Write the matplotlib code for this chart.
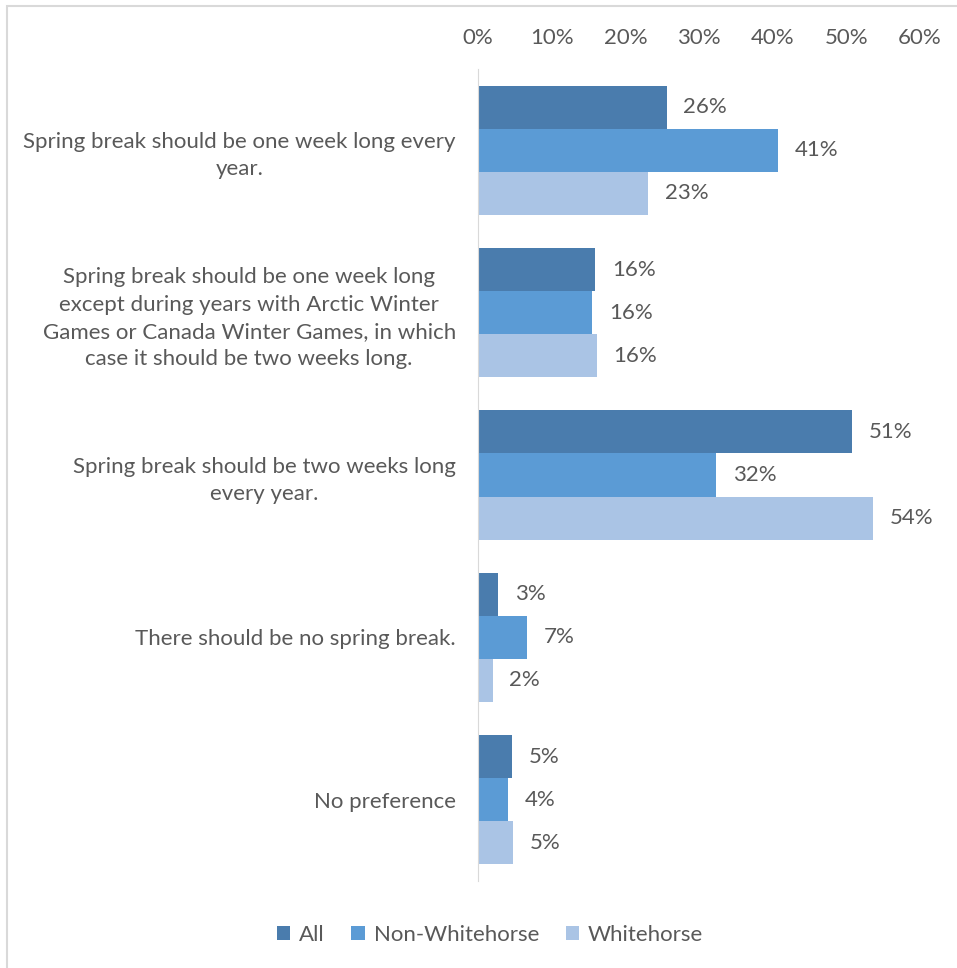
import matplotlib.pyplot as plt
import numpy as np
from matplotlib.patches import Rectangle

plt.rcParams['font.family'] = ['Lato', 'DejaVu Sans']

# Survey answers (top to bottom) and the share of each group
answers = ['Spring break should be one week long every\nyear.',
           'Spring break should be one week long\nexcept during years with Arctic Winter\nGames or Canada Winter Games, in which\ncase it should be two weeks long.',
           'Spring break should be two weeks long\nevery year.',
           'There should be no spring break.',
           'No preference']
groups = ['All', 'Non-Whitehorse', 'Whitehorse']
all_vals = [0.256, 0.159, 0.508, 0.027, 0.046]
non_whitehorse = [0.407, 0.155, 0.323, 0.067, 0.041]
whitehorse = [0.231, 0.161, 0.536, 0.020, 0.048]
colors = ['#4a7cad', '#5b9bd5', '#aac4e5']
text_col = '#595959'
fs = 16

fig = plt.figure(figsize=(9.57, 9.68), dpi=100)
ax = fig.add_axes([478 / 957, 1 - 881 / 968, 442 / 957, 812 / 968])

# light frame around the chart area
fig.patches.append(Rectangle((7 / 957, -0.1), 1.2, 1 - 6 / 968 + 0.1,
                             transform=fig.transFigure, fill=False,
                             edgecolor='#d9d9d9', linewidth=1.5))

y = np.arange(len(answers))
h = 0.265
for i, (vals, name) in enumerate(zip([all_vals, non_whitehorse, whitehorse], groups)):
    pos = y + (i - 1) * h
    ax.barh(pos, vals, height=h, color=colors[i], label=name)
    for p, v in zip(pos, vals):
        ax.annotate(f'{round(v * 100):.0f}%', (v, p), xytext=(12, 0),
                    textcoords='offset points', va='center', ha='left',
                    fontsize=fs, color=text_col)

ax.set_xlim(0, 0.6)
ax.set_ylim(len(answers) - 0.5, -0.5)
ax.set_xticks(np.arange(0, 0.61, 0.1))
ax.set_xticklabels([f'{t}%' for t in range(0, 61, 10)])
ax.xaxis.tick_top()
ax.tick_params(axis='x', length=0, pad=15, labelsize=fs, labelcolor=text_col)
ax.set_yticks(y)
ax.set_yticklabels(answers, multialignment='center', linespacing=1.45)
ax.tick_params(axis='y', length=0, pad=16, labelsize=fs, labelcolor=text_col)

for s in ['top', 'right', 'bottom']:
    ax.spines[s].set_visible(False)
ax.spines['left'].set_color('#d9d9d9')

fig.legend(loc='center', bbox_to_anchor=(0.512, 1 - 935 / 968), ncol=3,
           frameon=False, fontsize=fs, labelcolor=text_col,
           handlelength=0.6, handleheight=0.6, handletextpad=0.4,
           columnspacing=1.2)

fig.savefig('out.png', dpi=100, facecolor='white')
